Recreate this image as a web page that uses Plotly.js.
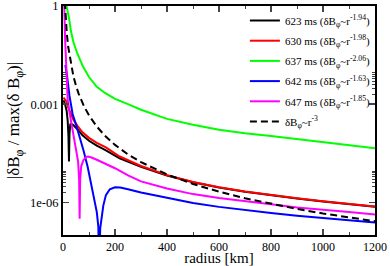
<!DOCTYPE html>
<html>
<head>
<meta charset="utf-8">
<script src="https://cdn.plot.ly/plotly-3.0.1.min.js"></script>
<style>
html,body{margin:0;padding:0;background:#fff;}
#chart{width:390px;height:266px;}
</style>
</head>
<body>
<div id="chart"></div>
<script>
// series (radius in km, normalized |dB_phi|)
var seriesNames = ["623 ms (δB<sub>φ</sub>~r<sup>-1.94</sup>)",
                   "630 ms (δB<sub>φ</sub>~r<sup>-1.98</sup>)",
                   "637 ms (δB<sub>φ</sub>~r<sup>-2.06</sup>)",
                   "642 ms (δB<sub>φ</sub>~r<sup>-1.63</sup>)",
                   "647 ms (δB<sub>φ</sub>~r<sup>-1.85</sup>)",
                   "δB<sub>φ</sub>~r<sup>-3</sup>"];

var r623 = [2, 8, 14, 18, 21, 23, 25, 28, 32, 40, 57, 75, 100, 130, 165, 218, 300, 400, 500, 600, 700, 800, 900, 1000, 1100, 1200];
var v623 = [1.32e-3, 1e-3, 6.31e-4, 3.16e-4, 1e-4, 1.78e-5, 1.26e-4, 2.40e-4, 2.51e-4, 2.29e-4, 1.66e-4, 1.12e-4, 7.59e-5, 5.37e-5, 3.89e-5, 2.19e-5, 1.22e-5, 6.6e-6, 4.1e-6, 2.83e-6, 2.1e-6, 1.63e-6, 1.3e-6, 1.05e-6, 8.8e-7, 7.3e-7];

var r630 = [2, 8, 12, 20, 30, 40, 57, 75, 100, 130, 165, 218, 300, 400, 500, 600, 700, 800, 900, 1000, 1100, 1200];
var v630 = [1.58e-3, 1.41e-3, 1.26e-3, 7.94e-4, 4.79e-4, 3.31e-4, 2.09e-4, 1.38e-4, 9.33e-5, 6.61e-5, 4.79e-5, 2.51e-5, 1.29e-5, 6.76e-6, 4.17e-6, 2.88e-6, 2.14e-6, 1.66e-6, 1.32e-6, 1.07e-6, 8.91e-7, 7.41e-7];

var r637 = [10, 14, 20, 25, 30, 40, 55, 77, 100, 130, 160, 200, 250, 300, 400, 500, 600, 700, 800, 900, 1000, 1100, 1200];
var v637 = [1.41, 1, 0.501, 0.355, 0.178, 0.0794, 0.0355, 0.0141, 6.76e-3, 3.39e-3, 2.24e-3, 1.45e-3, 1e-3, 6.76e-4, 3.55e-4, 2.34e-4, 1.66e-4, 1.29e-4, 1.07e-4, 8.51e-5, 6.92e-5, 5.62e-5, 4.47e-5];

var r642 = [9, 15, 25, 37, 50, 65, 80, 95, 110, 122, 130, 136, 139.5, 143, 148, 155, 165, 180, 200, 220, 250, 300, 400, 500, 600, 700, 800, 900, 1000, 1100, 1200];
var v642 = [1.58e-2, 7.94e-3, 1.78e-3, 5.01e-4, 2.40e-4, 1e-4, 3.55e-5, 1.20e-5, 3.31e-6, 1.12e-6, 5.01e-7, 1.78e-7, 3.16e-9, 1.58e-7, 3.55e-7, 7.94e-7, 1.66e-6, 2.51e-6, 2.88e-6, 2.82e-6, 2.51e-6, 2.00e-6, 1.38e-6, 9.55e-7, 7.24e-7, 5.75e-7, 4.68e-7, 3.89e-7, 3.31e-7, 2.82e-7, 2.40e-7];

var r647 = [3, 5, 8, 11.5, 15, 18, 25, 38, 50, 58, 62, 64, 66, 70, 78, 88, 96, 110, 130, 160, 200, 250, 300, 400, 500, 600, 700, 800, 900, 1000, 1100, 1200];
var v647 = [1.58, 1, 0.1, 1.41e-2, 3.16e-3, 1.41e-3, 5.62e-4, 1.41e-4, 5.01e-5, 1.78e-5, 5.01e-6, 3.16e-7, 5.01e-6, 1.26e-5, 1.91e-5, 2.40e-5, 2.51e-5, 2.34e-5, 2.00e-5, 1.58e-5, 1.10e-5, 6.61e-6, 4.37e-6, 2.63e-6, 1.78e-6, 1.35e-6, 1.10e-6, 8.71e-7, 6.92e-7, 5.75e-7, 5.01e-7, 4.27e-7];

var rRef = [7, 10, 15, 20, 30, 40, 50, 60, 80, 100, 130, 160, 200, 250, 300, 400, 500, 600, 700, 800, 900, 1000, 1100, 1200];
var vRef = [1.33, 0.455, 0.135, 0.0569, 0.01686, 7.11e-3, 3.64e-3, 2.11e-3, 8.89e-4, 4.55e-4, 2.07e-4, 1.11e-4, 5.69e-5, 2.91e-5, 1.69e-5, 7.11e-6, 3.64e-6, 2.11e-6, 1.33e-6, 8.89e-7, 6.25e-7, 4.55e-7, 3.42e-7, 2.64e-7];

var xTickVals = [0, 200, 400, 600, 800, 1000, 1200];
var yTickVals = [1, 1e-3, 1e-6];
var yTickText = ["1", "0.001", "1e-06"];
var yMinorVals = [2e-3, 3e-3, 4e-3, 5e-3, 6e-3, 7e-3, 8e-3, 9e-3, 2e-6, 3e-6, 4e-6, 5e-6, 6e-6, 7e-6, 8e-6, 9e-6];

var colors = ["#000000", "#ff0000", "#00ff00", "#0000ff", "#ff00ff", "#000000"];
var xs = [r623, r630, r637, r642, r647, rRef];
var ys = [v623, v630, v637, v642, v647, vRef];

var traces = [];
for (var i = 0; i < 6; i++) {
  traces.push({
    x: xs[i], y: ys[i], type: "scatter", mode: "lines",
    name: seriesNames[i], legendgroup: "g" + i,
    line: {color: colors[i], width: 2, dash: i === 5 ? "7px,4px" : "solid"}
  });
}

var font = "Liberation Serif, Times New Roman, serif";
var layout = {
  width: 390, height: 266,
  margin: {l: 63, r: 15, t: 6, b: 31},
  paper_bgcolor: "#fff", plot_bgcolor: "#fff",
  font: {family: font, color: "#000", size: 12},
  showlegend: true,
  legend: {x: 0.583, xanchor: "left", y: 1.0, yanchor: "top", bgcolor: "rgba(0,0,0,0)",
           font: {family: font, size: 11}, tracegroupgap: 1.2, itemwidth: 30},
  xaxis: {
    range: [0, 1200], tickvals: xTickVals, ticks: "inside", ticklen: 6, tickwidth: 1.5,
    showline: true, linecolor: "#000", linewidth: 2, mirror: "ticks",
    showgrid: false, zeroline: false,
    tickfont: {family: font, size: 12}, ticklabeloverflow: "allow",
    minor: {dtick: 100, ticks: "inside", ticklen: 3, tickwidth: 1, showgrid: false},
    title: {text: "radius [km]", font: {family: font, size: 15}, standoff: 4}
  },
  yaxis: {
    type: "log", range: [-7, 0.002], tickvals: yTickVals, ticktext: yTickText,
    ticks: "inside", ticklen: 6, tickwidth: 1.5,
    showline: true, linecolor: "#000", linewidth: 2, mirror: "ticks",
    showgrid: false, zeroline: false,
    tickfont: {family: font, size: 12.5}, ticklabeloverflow: "allow",
    minor: {tickmode: "array", tickvals: yMinorVals, ticks: "inside", ticklen: 3, tickwidth: 1, showgrid: false},
    title: {text: "|δB<sub>φ</sub> / max(δ B<sub>φ</sub>)|", font: {family: font, size: 17}, standoff: 6}
  }
};
Plotly.newPlot("chart", traces, layout, {staticPlot: true, displayModeBar: false});
</script>
</body>
</html>
